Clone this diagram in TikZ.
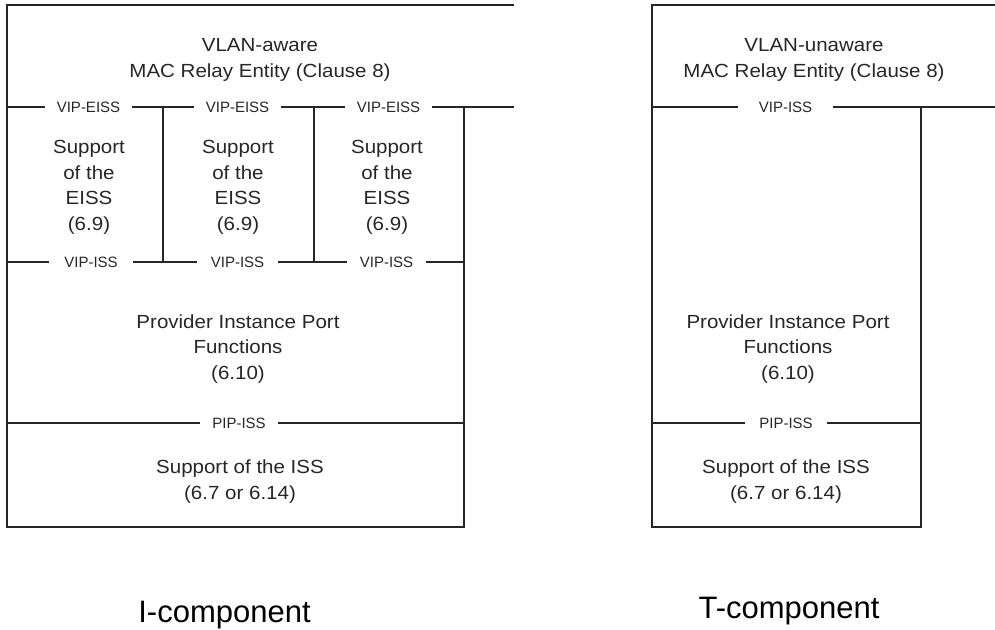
\documentclass[tikz,border=0pt]{standalone}
\usepackage{fontspec}
\setmainfont{Liberation Sans}
\newfontfamily\mainf[FakeStretch=1.08]{Liberation Sans}
\newfontfamily\lblf{Liberation Sans}
\begin{document}
\begin{tikzpicture}[x=1pt,y=-1pt,line width=1.8pt,
  wire/.style={draw=black!85,line cap=rect},
  block/.style={font=\mainf\fontsize{19}{25.6}\selectfont,text=black!85,align=center,anchor=base,inner sep=0pt},
  port/.style={font=\lblf\fontsize{15}{16}\selectfont,text=black!85,fill=white,inner ysep=1pt,anchor=center},
  comp/.style={font=\lblf\fontsize{31}{34}\selectfont,text=black,anchor=base,inner sep=0pt}]
\useasboundingbox (0,0) rectangle (995,629);
% ---------- I-component ----------
\coordinate (iTL) at (7,5);
\coordinate (iTR) at (513,5);
\coordinate (iEL) at (7,107);
\coordinate (iER) at (513,107);
\coordinate (iV1t) at (163,107);
\coordinate (iV1b) at (163,262);
\coordinate (iV2t) at (314,107);
\coordinate (iV2b) at (314,262);
\coordinate (iV3t) at (464,107);
\coordinate (iBR) at (464,527);
\coordinate (iBL) at (7,527);
\coordinate (iIL) at (7,262);
\coordinate (iIR) at (464,262);
\coordinate (iPL) at (7,423);
\coordinate (iPR) at (464,423);
\draw[wire] (iTR) -- (iTL) -- (iBL) -- (iBR) -- (iV3t);
\draw[wire] (iEL) -- (iER);
\draw[wire] (iIL) -- (iIR);
\draw[wire] (iPL) -- (iPR);
\draw[wire] (iV1t) -- (iV1b);
\draw[wire] (iV2t) -- (iV2b);
% base anchor = baseline of the last line
\node[block] (irelay) at (260,77) {VLAN-aware\\MAC Relay Entity (Clause 8)};
\node[port,inner xsep=12pt] (ie1) at (88.5,107) {VIP-EISS};
\node[port,inner xsep=12pt] (ie2) at (237.5,107) {VIP-EISS};
\node[port,inner xsep=12pt] (ie3) at (388.5,107) {VIP-EISS};
\node[block] (is1) at (89,230.5) {Support\\of the\\EISS\\(6.9)};
\node[block] (is2) at (238,230.5) {Support\\of the\\EISS\\(6.9)};
\node[block] (is3) at (387,230.5) {Support\\of the\\EISS\\(6.9)};
\node[port,inner xsep=15pt] (ii1) at (91,262) {VIP-ISS};
\node[port,inner xsep=14pt] (ii2) at (237.5,262) {VIP-ISS};
\node[port,inner xsep=13pt] (ii3) at (386.5,262) {VIP-ISS};
\node[block] (ipip) at (238,379.5) {Provider Instance Port\\Functions\\(6.10)};
\node[port,inner xsep=12.5pt] (ipp) at (239,423) {PIP-ISS};
\node[block] (iiss) at (240,499.5) {Support of the ISS\\(6.7 or 6.14)};
\node[comp] (icomp) at (224.5,622) {I-component};
% ---------- T-component ----------
\coordinate (tTL) at (652,5);
\coordinate (tTR) at (995,5);
\coordinate (tEL) at (652,107);
\coordinate (tER) at (995,107);
\coordinate (tVt) at (921,107);
\coordinate (tBR) at (921,527);
\coordinate (tBL) at (652,527);
\coordinate (tPL) at (652,423);
\coordinate (tPR) at (921,423);
\draw[wire] (tTR) -- (tTL) -- (tBL) -- (tBR) -- (tVt);
\draw[wire] (tEL) -- (tER);
\draw[wire] (tPL) -- (tPR);
\node[block] (trelay) at (814,77) {VLAN-unaware\\MAC Relay Entity (Clause 8)};
\node[port,inner xsep=21pt] (tvi) at (785.5,107) {VIP-ISS};
\node[block] (tpip) at (788,379.5) {Provider Instance Port\\Functions\\(6.10)};
\node[port,inner xsep=14.5pt] (tpp) at (786,423) {PIP-ISS};
\node[block] (tiss) at (786,499.5) {Support of the ISS\\(6.7 or 6.14)};
\node[comp] (tcomp) at (789,618) {T-component};
\end{tikzpicture}
\end{document}
